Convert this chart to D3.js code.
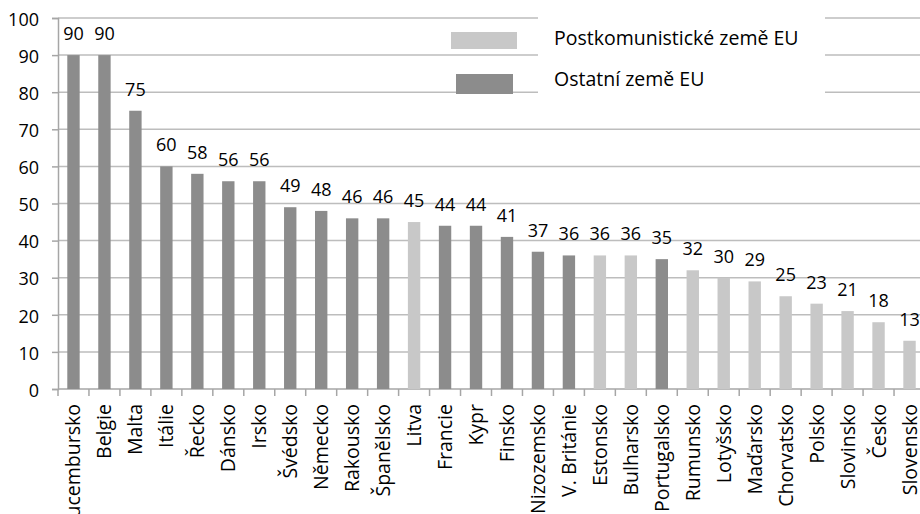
<!DOCTYPE html>
<head>
  <meta charset="utf-8">
  <style>
    body { margin: 0; background: #fff; }
    text { font-family: "Open Sans", sans-serif; fill: #000; }
  </style>
</head>
<body>
<script src="https://d3js.org/d3.v7.min.js"></script>
<script>

    // data
    var countries = ["Lucembursko", "Belgie", "Malta", "Itálie", "Řecko", "Dánsko", "Irsko", "Švédsko",
      "Německo", "Rakousko", "Španělsko", "Litva", "Francie", "Kypr", "Finsko", "Nizozemsko",
      "V. Británie", "Estonsko", "Bulharsko", "Portugalsko", "Rumunsko", "Lotyšsko", "Maďarsko",
      "Chorvatsko", "Polsko", "Slovinsko", "Česko", "Slovensko"];
    var values = [90, 90, 75, 60, 58, 56, 56, 49, 48, 46, 46, 45, 44, 44, 41, 37, 36, 36, 36, 35,
      32, 30, 29, 25, 23, 21, 18, 13];
    // 1 = postkomunistická země
    var postkom = [0, 0, 0, 0, 0, 0, 0, 0, 0, 0, 0, 1, 0, 0, 0, 0, 0, 1, 1, 0, 1, 1, 1, 1, 1, 1, 1, 1];
    var groups = ["Postkomunistické země EU", "Ostatní země EU"];
    var yTicks = [0, 10, 20, 30, 40, 50, 60, 70, 80, 90, 100];

    var colors = { 1: "#c8c8c8", 0: "#8c8c8c" };

    var data = countries.map(function(c, i) {
      return { name: c, value: values[i], pk: postkom[i] };
    });

    var margin = { top: 18, left: 58 },
        width = 867,
        height = 371;

    var svg = d3.select("body").append("svg")
        .attr("width", 920)
        .attr("height", 514)
        .append("g")
        .attr("transform", "translate(" + margin.left + "," + margin.top + ")");

    var x = d3.scaleBand().domain(countries).range([0, width]).paddingInner(0.6).paddingOuter(0.3);
    var y = d3.scaleLinear().domain([0, 100]).range([height, 0]);

    // gridlines
    svg.append("g")
        .selectAll("line")
        .data(yTicks.filter(function(d) { return d > 0; }))
        .enter().append("line")
        .attr("x1", 0)
        .attr("x2", width)
        .attr("y1", function(d) { return y(d); })
        .attr("y2", function(d) { return y(d); })
        .style("stroke", "#bdbdbd")
        .style("stroke-width", 1.5);

    // legend background (covers the gridlines)
    svg.append("rect")
        .attr("x", 538 - margin.left)
        .attr("y", 8 - margin.top)
        .attr("width", 287)
        .attr("height", 87)
        .style("fill", "#fff");

    // y axis
    var yAxis = svg.append("g")
        .call(d3.axisLeft(y).tickValues(yTicks).tickSize(6).tickPadding(13));
    yAxis.selectAll("text").style("font-size", "18px").attr("dy", "0.4em");
    yAxis.select(".domain").style("stroke", "#a6a6a6").style("stroke-width", 1.5);
    yAxis.selectAll(".tick line").style("stroke", "#a6a6a6").style("stroke-width", 1.5);

    // x axis: ticks between categories
    var step = x.step();
    var xg = svg.append("g").attr("transform", "translate(0," + height + ")");
    xg.append("line")
        .attr("x1", 0).attr("x2", width)
        .style("stroke", "#a6a6a6").style("stroke-width", 1.5);
    xg.selectAll(".xt")
        .data(d3.range(countries.length + 1))
        .enter().append("line")
        .attr("x1", function(i) { return i * step; })
        .attr("x2", function(i) { return i * step; })
        .attr("y1", 0).attr("y2", 7)
        .style("stroke", "#a6a6a6").style("stroke-width", 1.5);

    xg.selectAll(".xl")
        .data(countries)
        .enter().append("text")
        .attr("transform", function(d) {
          return "translate(" + (x(d) + x.bandwidth() / 2 + 7) + ",15) rotate(-90)";
        })
        .style("text-anchor", "end")
        .style("font-size", "19.5px")
        .text(function(d) { return d; });

    // bars
    svg.selectAll(".bar")
        .data(data)
        .enter().append("rect")
        .attr("x", function(d) { return x(d.name); })
        .attr("width", x.bandwidth())
        .attr("y", function(d) { return y(d.value); })
        .attr("height", function(d) { return height - y(d.value); })
        .style("fill", function(d) { return colors[d.pk]; });

    // value labels
    svg.selectAll(".lbl")
        .data(data)
        .enter().append("text")
        .attr("x", function(d) { return x(d.name) + x.bandwidth() / 2; })
        .attr("y", function(d) { return y(d.value) - 15; })
        .style("text-anchor", "middle")
        .style("font-size", "18px")
        .text(function(d) { return d.value; });

    // legend
    var legend = svg.append("g").attr("transform", "translate(" + (-margin.left) + "," + (-margin.top) + ")");
    legend.append("rect")
        .attr("x", 451).attr("y", 32).attr("width", 66).attr("height", 17)
        .style("fill", colors[1]);
    legend.append("rect")
        .attr("x", 456).attr("y", 74).attr("width", 57).attr("height", 20)
        .style("fill", colors[0]);
    legend.append("text")
        .attr("x", 554).attr("y", 45)
        .style("font-size", "19.5px")
        .text(groups[0]);
    legend.append("text")
        .attr("x", 554).attr("y", 86)
        .style("font-size", "19.5px")
        .text(groups[1]);

</script>
</body>
